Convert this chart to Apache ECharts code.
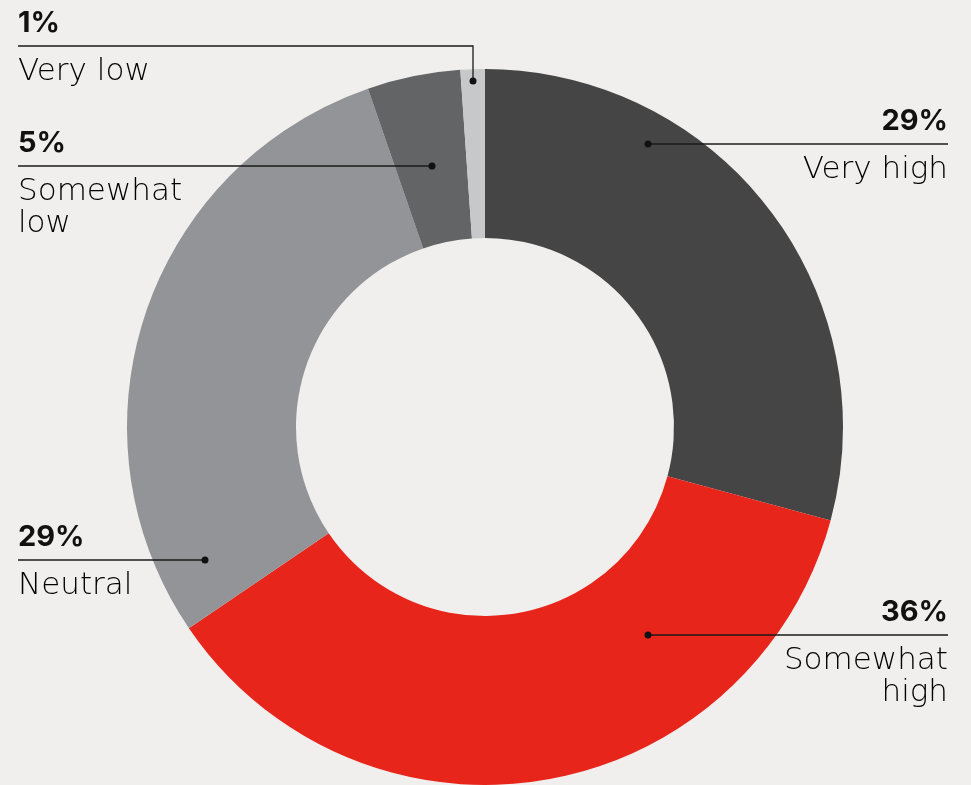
<!DOCTYPE html>
<html>
<head>
<meta charset="utf-8">
<script src="https://cdn.jsdelivr.net/npm/echarts@6/dist/echarts.min.js"></script>
<style>
  html, body { margin: 0; padding: 0; background: #f0efed; }
  #chart { width: 971px; height: 785px; }
</style>
</head>
<body>
<div id="chart"></div>
<script>
  // data (shares in %, clockwise from 12 o'clock)
  const categories = ['Very high', 'Somewhat high', 'Neutral', 'Somewhat low', 'Very low'];
  const shares = [29.2, 36.3, 29.2, 4.2, 1.1];
  const shareLabels = ['29%', '36%', '29%', '5%', '1%'];
  const nameLabels = ['Very high', 'Somewhat\nhigh', 'Neutral', 'Somewhat\nlow', 'Very low'];
  const colors = ['#454545', '#e8251b', '#939497', '#636466', '#c7c8ca'];

  // callout placement (dot on slice, text side, leader y)
  const callouts = [
    { side: 'right', lineY: 144, dot: [648, 144] },
    { side: 'right', lineY: 635, dot: [648, 635] },
    { side: 'left', lineY: 560, dot: [205, 560] },
    { side: 'left', lineY: 166, dot: [432, 166] },
    { side: 'left', lineY: 46, dot: [473, 81] }
  ];
  const LEFT_X = 18;
  const RIGHT_X = 948;

  const chart = echarts.init(document.getElementById('chart'), null, { renderer: 'canvas' });

  const leaders = [];
  callouts.forEach((c) => {
    const edge = c.side === 'left' ? LEFT_X : RIGHT_X;
    leaders.push({
      type: 'polyline',
      shape: { points: [c.dot, [c.dot[0], c.lineY], [edge, c.lineY]] },
      style: { stroke: '#1a1a1a', lineWidth: 1.3, fill: null },
      z: 100
    });
    leaders.push({
      type: 'circle',
      shape: { cx: c.dot[0], cy: c.dot[1], r: 3.5 },
      style: { fill: '#111' },
      z: 101
    });
  });

  const option = {
    backgroundColor: '#f0efed',
    animation: false,
    series: [
      {
        type: 'pie',
        center: [485, 427],
        radius: [189, 358],
        startAngle: 90,
        clockwise: true,
        silent: true,
        emphasis: { disabled: true },
        itemStyle: { borderWidth: 0 },
        label: {
          show: true,
          position: 'outside',
          width: 320,
          overflow: 'none',
          formatter: (p) => '{p|' + shareLabels[p.dataIndex] + '}\n{n|' + nameLabels[p.dataIndex].split('\n').join('}\n{n|') + '}',
          rich: {
            p: { fontFamily: 'Inter', fontWeight: 700, fontSize: 29, color: '#111', lineHeight: 65 },
            n: { fontFamily: 'DejaVu Sans', fontWeight: 200, fontSize: 31, color: '#000', lineHeight: 32 }
          }
        },
        labelLine: { show: false },
        labelLayout: (params) => {
          const c = callouts[params.dataIndex];
          return {
            x: c.side === 'left' ? LEFT_X : RIGHT_X,
            y: c.lineY - 55,
            align: c.side,
            verticalAlign: 'top'
          };
        },
        data: categories.map((name, i) => ({
          name: name,
          value: shares[i],
          itemStyle: { color: colors[i] }
        }))
      }
    ],
    graphic: leaders
  };

  chart.setOption(option);
</script>
</body>
</html>
